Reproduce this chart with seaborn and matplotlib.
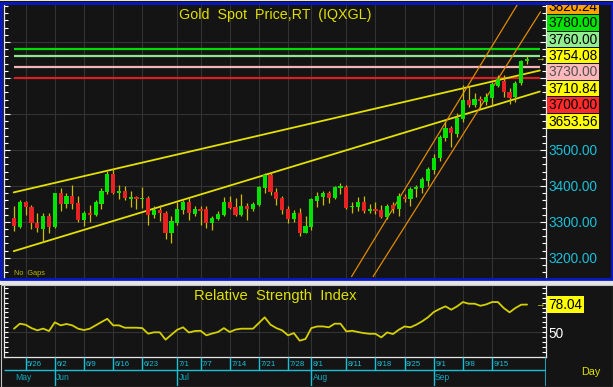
import numpy as np
import pandas as pd
import matplotlib
matplotlib.use("Agg")
import matplotlib.pyplot as plt
import matplotlib.transforms as mtrans
import seaborn as sns
from matplotlib import font_manager as fm
from matplotlib.patches import Rectangle
from matplotlib.ticker import FixedLocator, MultipleLocator, FuncFormatter, NullFormatter

# ---------------- data ----------------
start_date = "2025-05-22"
opens = [3310, 3287, 3356, 3341, 3298, 3281, 3315, 3285, 3380, 3350,
         3372, 3352, 3306, 3326, 3319, 3349, 3384, 3433, 3380, 3386,
         3365, 3369, 3363, 3366, 3319, 3333, 3326, 3269, 3298, 3333,
         3356, 3322, 3335, 3335, 3296, 3307, 3319, 3356, 3341, 3319,
         3344, 3335, 3347, 3394, 3431, 3384, 3366, 3335, 3308, 3326,
         3270, 3285, 3358, 3370, 3380, 3366, 3394, 3396, 3341, 3341,
         3356, 3331, 3335, 3333, 3313, 3347, 3335, 3370, 3363, 3392,
         3393, 3415, 3444, 3477, 3533, 3562, 3544, 3585, 3639, 3625,
         3642, 3632, 3644, 3678, 3692, 3662, 3646, 3685, 3747]
highs = [3344, 3361, 3357, 3347, 3326, 3326, 3326, 3381, 3394, 3381,
         3403, 3372, 3329, 3347, 3361, 3394, 3442, 3447, 3403, 3400,
         3386, 3372, 3398, 3372, 3343, 3347, 3329, 3317, 3356, 3361,
         3366, 3343, 3344, 3343, 3317, 3329, 3370, 3372, 3366, 3377,
         3352, 3356, 3400, 3435, 3440, 3395, 3372, 3343, 3333, 3338,
         3315, 3366, 3384, 3387, 3387, 3400, 3409, 3403, 3356, 3370,
         3372, 3349, 3356, 3346, 3350, 3354, 3380, 3378, 3396, 3403,
         3424, 3452, 3489, 3542, 3579, 3567, 3602, 3681, 3678, 3657,
         3650, 3657, 3690, 3708, 3708, 3671, 3692, 3750, 3762]
lows = [3275, 3283, 3319, 3281, 3273, 3245, 3269, 3282, 3329, 3338,
        3335, 3301, 3289, 3301, 3315, 3336, 3377, 3377, 3363, 3361,
        3342, 3335, 3338, 3292, 3310, 3303, 3252, 3241, 3292, 3322,
        3304, 3317, 3292, 3282, 3278, 3304, 3317, 3335, 3315, 3315,
        3306, 3329, 3343, 3380, 3375, 3347, 3322, 3298, 3301, 3261,
        3269, 3278, 3341, 3347, 3352, 3363, 3377, 3335, 3326, 3329,
        3326, 3326, 3322, 3310, 3307, 3326, 3315, 3354, 3345, 3370,
        3380, 3400, 3433, 3468, 3526, 3507, 3537, 3579, 3620, 3619,
        3614, 3625, 3625, 3674, 3646, 3628, 3634, 3680, 3740]
closes = [3289, 3356, 3341, 3296, 3282, 3315, 3285, 3380, 3350, 3372,
          3349, 3306, 3326, 3319, 3354, 3386, 3433, 3380, 3386, 3367,
          3369, 3363, 3366, 3319, 3333, 3324, 3269, 3303, 3335, 3356,
          3324, 3335, 3331, 3296, 3312, 3322, 3354, 3340, 3319, 3344,
          3335, 3349, 3396, 3431, 3384, 3363, 3333, 3308, 3326, 3270,
          3289, 3363, 3372, 3380, 3366, 3396, 3400, 3338, 3345, 3356,
          3329, 3335, 3329, 3313, 3345, 3336, 3372, 3365, 3392, 3396,
          3419, 3446, 3477, 3535, 3560, 3546, 3588, 3639, 3625, 3642,
          3636, 3646, 3683, 3696, 3662, 3644, 3687, 3746, 3754.08]
rsi = [53.4, 58.5, 57.4, 54.0, 51.7, 53.5, 51.0, 59.9, 56.8, 58.2,
       56.8, 53.4, 52.0, 53.4, 56.8, 60.2, 63.5, 56.8, 56.8, 54.4,
       54.4, 54.4, 54.0, 48.3, 49.7, 49.7, 42.2, 47.3, 52.3, 54.8,
       49.5, 51.0, 51.3, 46.6, 48.5, 50.0, 54.0, 50.0, 52.5, 53.4,
       53.4, 53.4, 59.2, 65.0, 57.5, 54.0, 51.7, 46.6, 48.9, 41.2,
       42.9, 54.0, 55.7, 55.7, 54.8, 58.5, 58.5, 50.6, 51.3, 50.0,
       48.9, 48.2, 48.2, 44.5, 49.6, 47.9, 52.3, 55.7, 54.8, 57.5,
       60.9, 65.0, 70.4, 73.5, 76.2, 72.8, 76.2, 80.6, 78.9, 78.9,
       76.8, 78.2, 80.6, 80.6, 74.5, 70.1, 74.5, 77.9, 78.04]

tick_dates = ["2025-05-26", "2025-06-02", "2025-06-09", "2025-06-16", "2025-06-23",
              "2025-07-01", "2025-07-07", "2025-07-14", "2025-07-21", "2025-07-28",
              "2025-08-01", "2025-08-11", "2025-08-18", "2025-08-25", "2025-09-01",
              "2025-09-08", "2025-09-15"]
tick_labels = ["5/26", "6/2", "6/9", "6/16", "6/23", "7/1", "7/7", "7/14", "7/21",
               "7/28", "8/1", "8/11", "8/18", "8/25", "9/1", "9/8", "9/15"]
month_labels = ["May", "Jun", "Jul", "Aug", "Sep"]

level_values = [3780, 3760, 3730, 3700]
level_colors = ["#00dc00", "#8ee88e", "#f4b4b4", "#d82020"]

# trend lines: (x index, price) endpoints
chan_top_x, chan_top_y = [-0.05, 90.2], [3382, 3721]
chan_bot_x, chan_bot_y = [-0.05, 90.2], [3218.6, 3662.5]
fast_left_x, fast_left_y = [57.9, 86.3], [3148, 3903]
fast_right_x, fast_right_y = [61.6, 90.3], [3148, 3884]

box_labels = ["3820.24", "3780.00", "3760.00", "3754.08", "3730.00", "3710.84", "3700.00", "3653.56"]
box_colors = ["#ffa200", "#00e400", "#90ee90", "#ffff00", "#ffb8bc", "#ffff00", "#ff2a2a", "#ffff00"]
box_text_colors = ["#000000", "#000000", "#000000", "#000000", "#505050", "#000000", "#000000", "#000000"]

# ---------------- style ----------------
sns.set_theme(style="dark")
names = {f.name for f in fm.fontManager.ttflist}
NARROW = "Liberation Sans Narrow" in names
FONT = "Liberation Sans Narrow" if NARROW else "Liberation Sans"
plt.rcParams["font.family"] = [FONT, "DejaVu Sans"]
S = 1.0 if NARROW else 0.82

BG = "#141414"
CYAN = "#18c0d8"
YEL = "#e0e000"
W, H = 613, 387


def fx(x):
    return x / W


def fy(y):
    return 1 - y / H


dates = pd.bdate_range(start_date, periods=len(closes))
df = pd.DataFrame({"date": dates, "open": opens, "high": highs, "low": lows,
                   "close": closes, "rsi": rsi})
df["idx"] = np.arange(len(df))
pos_of = {d: i for i, d in enumerate(dates)}
tick_pos = [pos_of[pd.Timestamp(d)] for d in tick_dates]
month_pos = [int(df.index[df["date"].dt.month == m][0]) for m in sorted(df["date"].dt.month.unique())]

XL = (-1.715, 91.25)

fig = plt.figure(figsize=(6.13, 3.87), dpi=100, facecolor=BG)

# ---------------- price panel ----------------
ax = fig.add_axes([fx(4), fy(278), (546 - 4) / W, (278 - 5) / H])
ax.set_facecolor(BG)
ax.set_xlim(*XL)
ax.set_ylim(3144, 3903)

ax.yaxis.set_major_locator(FixedLocator([3200, 3300, 3400, 3500, 3600, 3700, 3800]))
ax.yaxis.set_major_formatter(FuncFormatter(lambda v, p: f"{v:.2f}" if v <= 3500 else ""))
ax.yaxis.set_minor_locator(MultipleLocator(20))
ax.tick_params(axis="y", which="both", direction="in", left=True, right=True,
               labelleft=False, labelright=True, color="white", labelcolor=CYAN,
               labelsize=12 * S, pad=2)
ax.tick_params(axis="y", which="major", length=4, width=0.8)
ax.tick_params(axis="y", which="minor", length=3, width=0.8)
ax.set_xticks(tick_pos)
ax.set_xticklabels([])
ax.tick_params(axis="x", length=0)
ax.grid(True, color="#333333", lw=0.8)
for s in ["top", "bottom"]:
    ax.spines[s].set_visible(False)
for s in ["left", "right"]:
    ax.spines[s].set_color("#e8e8e8")
    ax.spines[s].set_linewidth(0.9)

# level lines
ax.hlines(level_values, chan_top_x[0], chan_top_x[1], colors=level_colors, lw=1.6, zorder=2)

# trend lines
ax.plot(chan_top_x, chan_top_y, color="#e4e000", lw=1.3, zorder=2)
ax.plot(chan_bot_x, chan_bot_y, color="#e4e000", lw=1.3, zorder=2)
ax.plot(fast_left_x, fast_left_y, color="#e08a00", lw=0.9, zorder=2)
ax.plot(fast_right_x, fast_right_y, color="#e08a00", lw=0.9, zorder=2)

# candles
o = df["open"].to_numpy(float)
c = df["close"].to_numpy(float)
up = c >= o
ax.vlines(df["idx"], df["low"], df["high"], color="#ccbc00", lw=0.9, zorder=3)
body_bottom = np.minimum(o, c)
body_h = np.maximum(np.abs(c - o), 3.5)
ax.bar(df["idx"], body_h, bottom=body_bottom, width=0.72,
       color=np.where(up, "#00e400", "#e82222"), lw=0, zorder=4)

ax.text(0.5, (278 - 15) / 273, "Gold  Spot  Price,RT  (IQXGL)", transform=ax.transAxes,
        ha="center", va="center", color=YEL, fontsize=12.5 * S)
ax.text((14.5 - 4) / 542, (278 - 273.5) / 273, "No  Gaps", transform=ax.transAxes,
        ha="left", va="center", color="#b8b800", fontsize=6.5 * S)
ax.text(89.4, c[-1], "\u2192", ha="left", va="center", color=YEL, fontsize=7, clip_on=False)

# stacked value boxes
axl = fig.add_axes([fx(546), fy(278), (613 - 546) / W, (278 - 5) / H])
axl.set_xlim(546, 613)
axl.set_ylim(278, 5)
axl.axis("off")
axl.patch.set_alpha(0)
for k, (lab, col, tc) in enumerate(zip(box_labels, box_colors, box_text_colors)):
    top = -1.3 + 16.4 * k
    axl.add_patch(Rectangle((546.8, top), 52.3, 15.6, facecolor=col, edgecolor="none"))
    axl.text(573, top + 8.0, lab, ha="center", va="center", color=tc,
             fontsize=12 * S, clip_on=True)

# ---------------- RSI panel ----------------
axr = fig.add_axes([fx(4), fy(357), 542 / W, 72 / H])
axr.set_facecolor(BG)
sns.lineplot(data=df, x="idx", y="rsi", ax=axr, color="#d4d000", lw=1.3)
axr.set_xlim(*XL)
axr.set_ylim(24.5, 98)
axr.set_xlabel("")
axr.set_ylabel("")
axr.yaxis.set_major_locator(FixedLocator([50]))
axr.yaxis.set_major_formatter(FuncFormatter(lambda v, p: f"{v:.0f}"))
axr.yaxis.set_minor_locator(MultipleLocator(5))
axr.tick_params(axis="y", which="both", direction="in", left=True, right=True,
                labelleft=False, labelright=True, color="white", labelcolor="white",
                labelsize=12 * S, pad=2, length=3, width=0.8)
axr.set_xticks(tick_pos)
axr.set_xticklabels([])
axr.tick_params(axis="x", length=0)
axr.grid(True, color="#333333", lw=0.8)
for s in ["left", "right", "bottom"]:
    axr.spines[s].set_color("#e8e8e8")
    axr.spines[s].set_linewidth(0.9)
axr.spines["top"].set_color("#a0a0a0")
axr.text(0.5, (357 - 296) / 72, "Relative  Strength  Index", transform=axr.transAxes,
         ha="center", va="center", color=YEL, fontsize=13 * S)
blend = mtrans.blended_transform_factory(axr.transAxes, axr.transData)
axr.text((548.5 - 4) / 542, df["rsi"].iloc[-1], f"{df['rsi'].iloc[-1]:.2f}", transform=blend,
         ha="left", va="center", color="black", fontsize=12 * S, clip_on=False,
         bbox=dict(boxstyle="square,pad=0.12", fc="#ffff00", ec="none"))
axr.text(89.4, df["rsi"].iloc[-1], "\u2192", ha="left", va="center", color=YEL,
         fontsize=7, clip_on=False)

# ---------------- date rows ----------------
axd = fig.add_axes([fx(4), fy(386), 542 / W, 29 / H])
axd.set_xlim(*XL)
axd.set_ylim(29, 0)
axd.axis("off")
axd.hlines(13, XL[0], XL[1], color=CYAN, lw=1)
axd.vlines(tick_pos, 0, 13, color=CYAN, lw=1)
axd.vlines(month_pos[1:], 13, 29, color=CYAN, lw=1)
axd.vlines(XL[1], 0, 29, color=CYAN, lw=1.2)
for p, lab in zip(tick_pos, tick_labels):
    axd.text(p + 0.25, 7, lab, ha="left", va="center", color=CYAN, fontsize=6.8 * S)
for p, lab in zip(month_pos, month_labels):
    axd.text(p + 0.2, 21, lab, ha="left", va="center", color="#10a8c0", fontsize=7.5 * S)

fig.text(fx(591), fy(372), "Day", ha="center", va="center", color=YEL, fontsize=9.5 * S)

# ---------------- frames ----------------
fig.add_artist(Rectangle((0, fy(285)), 1, (285 - 279.5) / H, transform=fig.transFigure,
                         facecolor="#e4e4e4", edgecolor="none", zorder=5))
fig.add_artist(Rectangle((0, fy(1.2)), 1, 1.2 / H, transform=fig.transFigure,
                         facecolor="#e4e4e4", edgecolor="none", zorder=5))
fig.add_artist(Rectangle((fx(1.3), fy(278.8)), (611.7 - 1.3) / W, (278.8 - 3.0) / H,
                         transform=fig.transFigure, fill=False, edgecolor="#0818c8",
                         lw=2.0, zorder=6))
fig.add_artist(Rectangle((fx(0.5), fy(386.5)), 612 / W, (386.5 - 285) / H,
                         transform=fig.transFigure, fill=False, edgecolor="#c4c4c4",
                         lw=0.8, zorder=6))

fig.savefig("out.png", dpi=100, facecolor=BG)
